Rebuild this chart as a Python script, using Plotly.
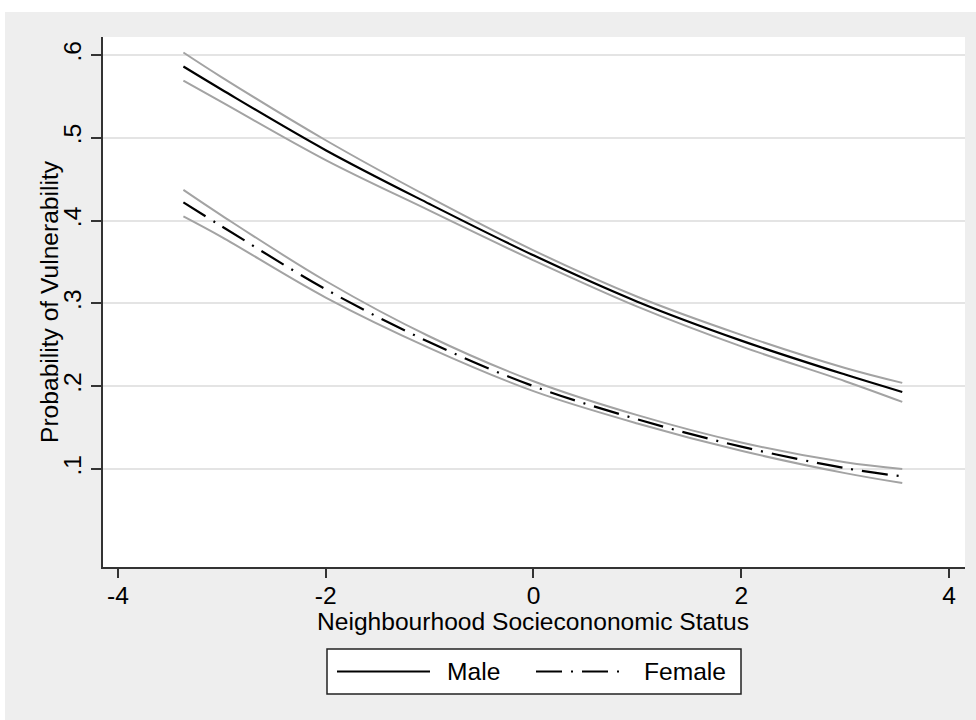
import plotly.graph_objects as go

# ---- data ----
ses = [-3.37, -3.0, -2.0, -1.0, 0.0, 1.0, 2.0, 3.0, 3.55]
male = [0.586, 0.558, 0.485, 0.420, 0.358, 0.302, 0.255, 0.214, 0.193]
male_hi = [0.603, 0.573, 0.497, 0.428, 0.364, 0.308, 0.262, 0.222, 0.204]
male_lo = [0.569, 0.543, 0.473, 0.412, 0.352, 0.296, 0.248, 0.206, 0.181]
female = [0.422, 0.393, 0.317, 0.253, 0.200, 0.160, 0.127, 0.101, 0.091]
female_hi = [0.437, 0.406, 0.327, 0.260, 0.206, 0.165, 0.132, 0.108, 0.100]
female_lo = [0.405, 0.380, 0.307, 0.246, 0.194, 0.155, 0.122, 0.095, 0.083]

y_ticks = [0.1, 0.2, 0.3, 0.4, 0.5, 0.6]
y_ticktext = [".1", ".2", ".3", ".4", ".5", ".6"]
x_ticks = [-4, -2, 0, 2, 4]
x_ticktext = ["-4", "-2", "0", "2", "4"]

FONT = "Liberation Sans, Arial, sans-serif"
FS = 24.6
CI_COLOR = "#a3a3a3"
FEMALE_DASH = "26px,9px,2px,9px"

fig = go.Figure()
for ys in (male_hi, male_lo, female_hi, female_lo):
    fig.add_trace(go.Scatter(x=ses, y=ys, mode="lines", line=dict(color=CI_COLOR, width=2, shape="spline"),
                             showlegend=False, hoverinfo="skip"))
fig.add_trace(go.Scatter(x=ses, y=male, mode="lines", name="Male",
                         line=dict(color="black", width=2.2, shape="spline"), showlegend=False))
fig.add_trace(go.Scatter(x=ses, y=female, mode="lines", name="Female",
                         line=dict(color="black", width=2.2, dash=FEMALE_DASH, shape="spline"), showlegend=False))

# plot area in pixels
L, R, T, B = 103, 965, 37, 567
W, H = 976, 720
def px(x):
    return (x - L) / (R - L)
def py(y):
    return (B - y) / (B - T)

shapes = [
    # white strips at top / left of the outer frame
    dict(type="rect", xref="paper", yref="paper", x0=px(0), x1=px(W), y0=py(12), y1=py(0),
         fillcolor="white", line=dict(width=0), layer="below"),
    dict(type="rect", xref="paper", yref="paper", x0=px(0), x1=px(5), y0=py(H), y1=py(0),
         fillcolor="white", line=dict(width=0), layer="below"),
    # legend box
    dict(type="rect", xref="paper", yref="paper", x0=px(327), x1=px(741), y0=py(694), y1=py(649),
         fillcolor="white", line=dict(color="#222222", width=1.5)),
    dict(type="line", xref="paper", yref="paper", x0=px(337), x1=px(430), y0=py(671.5), y1=py(671.5),
         line=dict(color="black", width=2)),
    dict(type="line", xref="paper", yref="paper", x0=px(536), x1=px(628), y0=py(671.5), y1=py(671.5),
         line=dict(color="black", width=2, dash=FEMALE_DASH)),
]
annotations = [
    dict(text="Male", xref="paper", yref="paper", x=px(445), y=py(671.5), xanchor="left", yanchor="middle",
         showarrow=False, font=dict(family=FONT, size=FS, color="black")),
    dict(text="Female", xref="paper", yref="paper", x=px(642), y=py(671.5), xanchor="left", yanchor="middle",
         showarrow=False, font=dict(family=FONT, size=FS, color="black")),
    # axis titles
    dict(text="Probability of Vulnerability", xref="paper", yref="paper", x=px(49), y=0.5,
         xanchor="center", yanchor="middle", textangle=-90, showarrow=False,
         font=dict(family=FONT, size=FS, color="black")),
    dict(text="Neighbourhood Sociecononomic Status", xref="paper", yref="paper", x=px(533), y=py(621),
         xanchor="center", yanchor="middle", showarrow=False,
         font=dict(family=FONT, size=FS, color="black")),
]

fig.update_layout(
    width=W, height=H,
    margin=dict(l=L, r=W - R, t=T, b=H - B, autoexpand=False),
    paper_bgcolor="#eeeeee",
    plot_bgcolor="white",
    font=dict(family=FONT, size=FS, color="black"),
    shapes=shapes,
    annotations=annotations,
    showlegend=False,
    xaxis=dict(
        range=[-4.144, 4.154], tickvals=x_ticks, ticktext=x_ticktext, showgrid=False, zeroline=False,
        showline=True, linecolor="#333333", linewidth=1.5,
        ticks="outside", ticklen=9, tickwidth=1.5, tickcolor="#333333",
        ticklabelstandoff=-3,
        tickfont=dict(size=FS, color="black"),
    ),
    yaxis=dict(
        range=[-0.0184, 0.6217], tickvals=y_ticks, ticktext=y_ticktext, tickangle=-90,
        showgrid=True, gridcolor="#e4e4e4", gridwidth=1.5, zeroline=False,
        showline=True, linecolor="#333333", linewidth=1.5,
        ticks="outside", ticklen=10, tickwidth=1.5, tickcolor="#333333",
        tickfont=dict(size=FS, color="black"),
    ),
)

fig.write_html("out.html", config={"displayModeBar": False},
               post_script="document.body.style.margin='0';document.body.style.padding='0';")
